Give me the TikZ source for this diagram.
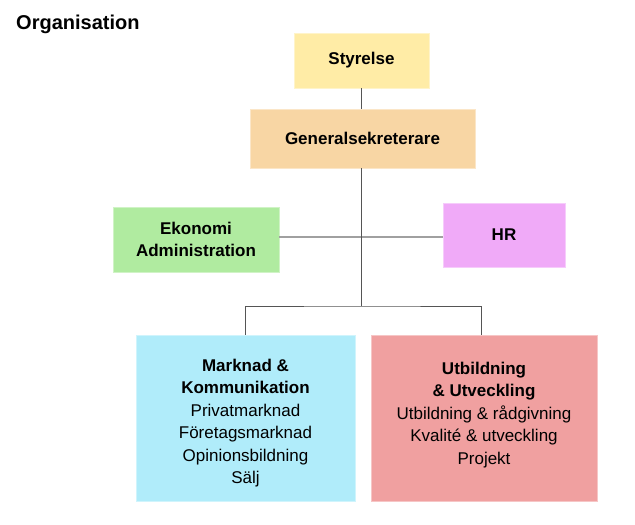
\documentclass[tikz,border=0pt]{standalone}
\usepackage{fontspec}
\setmainfont{Liberation Sans}
\definecolor{cyel}{RGB}{255,236,166}
\definecolor{cpea}{RGB}{248,214,164}
\definecolor{cgre}{RGB}{176,235,160}
\definecolor{cpin}{RGB}{240,170,248}
\definecolor{cblu}{RGB}{176,236,250}
\definecolor{cred}{RGB}{240,160,160}
\definecolor{dline}{RGB}{85,85,85}
\definecolor{lline}{RGB}{160,160,160}
\begin{document}
\begin{tikzpicture}[x=1pt,y=1pt,
  box/.style={rectangle, inner sep=0pt, align=center,
    font=\fontsize{17}{22.5}\selectfont, text=black},
  conn/.style={draw=dline, line width=1pt},
  lconn/.style={draw=lline, line width=1.6pt}]
\useasboundingbox[fill=white] (0,-525) rectangle (635,0);
\node[anchor=base west, inner sep=0pt, font=\fontsize{20}{24}\selectfont\bfseries] (title) at (16,-29) {Organisation};
\node[box, fill=cyel, draw=cyel!60, minimum width=135pt, minimum height=55pt] (sty) at (361.5,-60.5) {\bfseries Styrelse};
\node[box, fill=cpea, draw=cpea!60, minimum width=225pt, minimum height=59pt] (gen) at (362.5,-138.5) {\bfseries Generalsekreterare};
\node[box, fill=cgre, draw=cgre!60, minimum width=166pt, minimum height=65pt] (eko) at (196,-239.5) {\bfseries Ekonomi\\\bfseries Administration};
\node[box, fill=cpin, draw=cpin!60, minimum width=122pt, minimum height=64pt] (hr) at (504,-235) {\bfseries HR};
\node[box, fill=cblu, draw=cblu!60, minimum width=219pt, minimum height=166pt] (mk) at (245.5,-418) {};
\node[box, fill=cred, draw=cred!60, minimum width=226pt, minimum height=166pt] (ut) at (484,-418) {};
\node[box] (mkt) at (245.5,-423) {\bfseries Marknad \&\\\bfseries Kommunikation\\Privatmarknad\\Företagsmarknad\\Opinionsbildning\\Sälj};
\node[box] (utt) at (484,-415) {\bfseries Utbildning\\\bfseries \& Utveckling\\Utbildning \& rådgivning\\Kvalité \& utveckling\\Projekt};
\coordinate (mid) at (361,-237);
\coordinate (j) at (361,-306);
\coordinate (ur) at (481,-335);
\draw[lconn] (eko.east |- mid) -- (hr.west |- mid);
\draw[conn] (sty.south -| j) -- (gen.north -| j);
\draw[conn] (gen.south -| j) -- (j);
\draw[conn] (mk.north) |- (j) -| (ur);
\end{tikzpicture}
\end{document}
